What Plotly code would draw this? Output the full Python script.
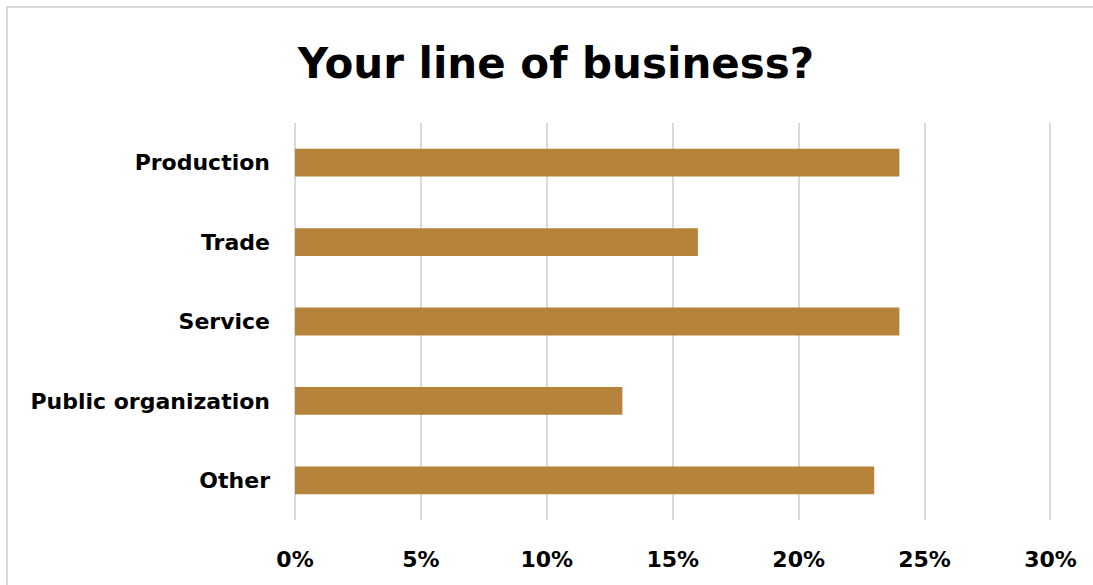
import plotly.graph_objects as go

# Survey answers, top to bottom as shown
categories = ["Production", "Trade", "Service", "Public organization", "Other"]
shares = [24, 16, 24, 13, 23]  # percent of respondents
tick_values = [0, 5, 10, 15, 20, 25, 30]
tick_labels = ["0%", "5%", "10%", "15%", "20%", "25%", "30%"]

W, H = 1093, 585
L, R, T, B = 295, 40, 123, 65
plot_w = W - L - R
plot_h = H - T - B

font_family = "'DejaVu Sans', sans-serif"

fig = go.Figure(
    go.Bar(
        x=shares,
        y=categories,
        orientation="h",
        marker=dict(color="#B5843A", line=dict(width=0)),
        width=0.35,
        hoverinfo="x+y",
    )
)

fig.update_layout(
    width=W,
    height=H,
    margin=dict(l=L, r=R, t=T, b=B, autoexpand=False),
    paper_bgcolor="white",
    plot_bgcolor="white",
    showlegend=False,
    title=dict(
        text="Your line of business?",
        x=556 / W,
        xref="container",
        xanchor="center",
        y=1 - 63 / H,
        yref="container",
        yanchor="middle",
        font=dict(family=font_family, size=42, color="black", weight=700),
    ),
    xaxis=dict(
        # a little headroom past 30% so its gridline is still drawn
        range=[0, 30.1],
        tickvals=tick_values,
        ticktext=tick_labels,
        showgrid=True,
        gridcolor="#D9D9D9",
        gridwidth=1.5,
        zeroline=True,
        zerolinecolor="#D9D9D9",
        zerolinewidth=1.5,
        showline=False,
        ticks="",
        ticklabelstandoff=24,
        tickfont=dict(family=font_family, size=22, color="black", weight=700),
        fixedrange=True,
    ),
    yaxis=dict(
        categoryorder="array",
        categoryarray=categories[::-1],
        range=[-0.5, len(categories) - 0.5],
        showgrid=False,
        zeroline=False,
        showline=False,
        ticks="",
        ticklabelstandoff=24,
        tickfont=dict(family=font_family, size=22, color="black", weight=700),
        fixedrange=True,
    ),
    shapes=[
        # light frame around the chart area
        dict(
            type="rect",
            xref="paper",
            yref="paper",
            x0=(7 - L) / plot_w,
            x1=(W + 5 - L) / plot_w,
            y0=-(B + 5) / plot_h,
            y1=(H - B - 7) / plot_h,
            line=dict(color="#D9D9D9", width=2),
            fillcolor="rgba(0,0,0,0)",
            layer="below",
        )
    ],
)

fig.write_html("out.html", config={"displayModeBar": False})
